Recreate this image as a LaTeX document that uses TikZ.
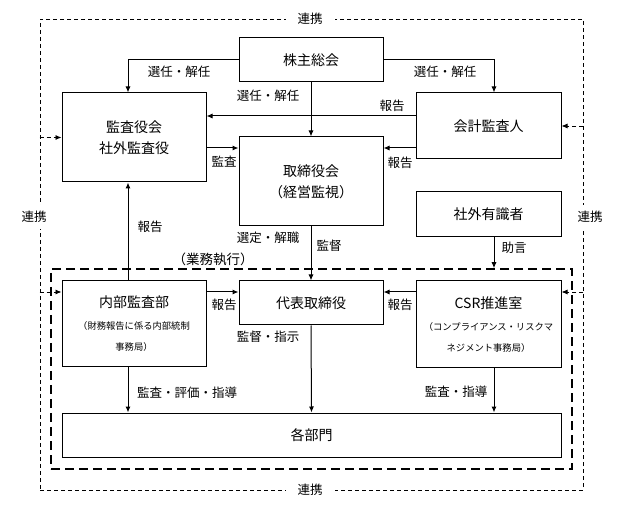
\documentclass[tikz,border=0pt]{standalone}
\usepackage{fontspec}
\setmainfont{Noto Sans CJK JP}
\usetikzlibrary{arrows.meta}
\tikzset{> = {Latex[length=6pt, width=5pt]}}
\tikzset{
  box/.style = {draw, line width=1pt, align=center, inner sep=0pt, font=\fontsize{14}{21}\selectfont},
  lbl/.style = {inner sep=1pt, font=\fontsize{12.5}{14}\selectfont},
  note/.style = {font=\fontsize{9.3}{20}\selectfont},
  outerframe/.style = {draw, line width=0.8pt, dash pattern=on 4pt off 3pt, inner sep=0pt},
  innerframe/.style = {draw, line width=1.5pt, dash pattern=on 9pt off 5pt, inner sep=0pt},
  conn/.style = {->, line width=1pt},
  link/.style = {->, line width=0.8pt, dash pattern=on 4pt off 3pt}
}

\begin{document}
\begin{tikzpicture}[x=1pt, y=-1pt]
\useasboundingbox (0,0) rectangle (621,510);
% columns of the side arrows
\coordinate (lx) at (128,0);
\coordinate (rx) at (494,0);
% frames
\node[outerframe, minimum width=543pt, minimum height=471pt] (renkei) at (311.5,254.5) {};
\node[innerframe, minimum width=521pt, minimum height=200pt] (gyomu) at (311.5,369) {};
\node[lbl, fill=white, inner xsep=12pt] (rtop) at (310,19) {連携};
\node[lbl, fill=white, inner ysep=6pt] (rleft) at (34,217) {連携};
\node[lbl, fill=white, inner ysep=6pt] (rright) at (590,217) {連携};
\node[lbl, fill=white, inner xsep=12pt] (rbottom) at (310,490) {連携};
% boxes
\node[box, minimum width=144pt, minimum height=44pt] (kabu) at (311,60) {株主総会};
\node[box, minimum width=144pt, minimum height=89pt] (kansa) at (134,137.5) {監査役会\\社外監査役};
\node[box, minimum width=144pt, minimum height=89pt] (torishimari) at (311,181.5) {取締役会\\（経営監視）};
\node[box, minimum width=145pt, minimum height=66pt] (kaikei) at (488.5,126) {会計監査人};
\node[box, minimum width=145pt, minimum height=45pt] (yushiki) at (488.5,214.5) {社外有識者};
\node[box, minimum width=144pt, minimum height=86pt] (naibu) at (134,324) {内部監査部\\[1pt]{\fontsize{9.3}{20}\selectfont （財務報告に係る内部統制}\\{\fontsize{9.3}{20}\selectfont 事務局）}};
\node[box, minimum width=144pt, minimum height=44pt] (daihyo) at (311,303) {代表取締役};
\node[box, minimum width=145pt, minimum height=87pt] (csr) at (488.5,324.5) {CSR推進室\\[1pt]{\fontsize{9.3}{20}\selectfont （コンプライアンス・リスクマ}\\{\fontsize{9.3}{20}\selectfont ネジメント事務局）}};
\node[box, minimum width=499pt, minimum height=44pt] (kakubu) at (311.5,435) {各部門};
% solid connectors
\draw[conn] (kabu.west) -| (kansa.north -| lx);
\draw[conn] (kabu.east) -| (kaikei.north -| rx);
\draw[conn] (kabu.south) -- (torishimari.north);
\draw[conn] (kaikei.west |- 0,116) -- (kansa.east |- 0,116);
\draw[conn] (kaikei.west |- 0,148) -- (torishimari.east |- 0,148);
\draw[conn] (kansa.east |- 0,148) -- (torishimari.west |- 0,148);
\draw[conn] (naibu.north -| lx) -- (kansa.south -| lx);
\draw[conn] (torishimari.south) -- (daihyo.north);
\draw[conn] (yushiki.south -| rx) -- (gyomu.north -| rx);
\draw[conn] (naibu.east |- 0,292) -- (daihyo.west |- 0,292);
\draw[conn] (csr.west |- 0,292) -- (daihyo.east |- 0,292);
\draw[conn] (daihyo.south) -- (kakubu.north);
\draw[conn] (naibu.south -| lx) -- (kakubu.north -| lx);
\draw[conn] (csr.south -| rx) -- (kakubu.north -| rx);
% dashed links from the frame
\draw[link] (renkei.west |- kansa.west) -- (kansa.west);
\draw[link] (renkei.east |- kaikei.east) -- (kaikei.east);
\draw[link] (renkei.west |- 0,292) -- (naibu.west |- 0,292);
\draw[link] (renkei.east |- 0,292) -- (csr.east |- 0,292);
% labels
\node[lbl] (l1) at (179,72) {選任・解任};
\node[lbl] (l2) at (445,72) {選任・解任};
\node[lbl] (l3) at (268,96) {選任・解任};
\node[lbl] (l4) at (392,106) {報告};
\node[lbl] (l5) at (400,163) {報告};
\node[lbl] (l6) at (224,162) {監査};
\node[lbl] (l7) at (150,227) {報告};
\node[lbl] (l8) at (268,238) {選定・解職};
\node[lbl] (l9) at (329,246) {監督};
\node[lbl] (l10) at (514,248) {助言};
\node[lbl, font=\fontsize{13.5}{15}\selectfont] (l11) at (213,259) {（業務執行）};
\node[lbl] (l12) at (224,305) {報告};
\node[lbl] (l13) at (400,305) {報告};
\node[lbl] (l14) at (268,337) {監督・指示};
\node[lbl] (l15) at (187,393) {監査・評価・指導};
\node[lbl] (l16) at (456,392) {監査・指導};
\end{tikzpicture}
\end{document}
